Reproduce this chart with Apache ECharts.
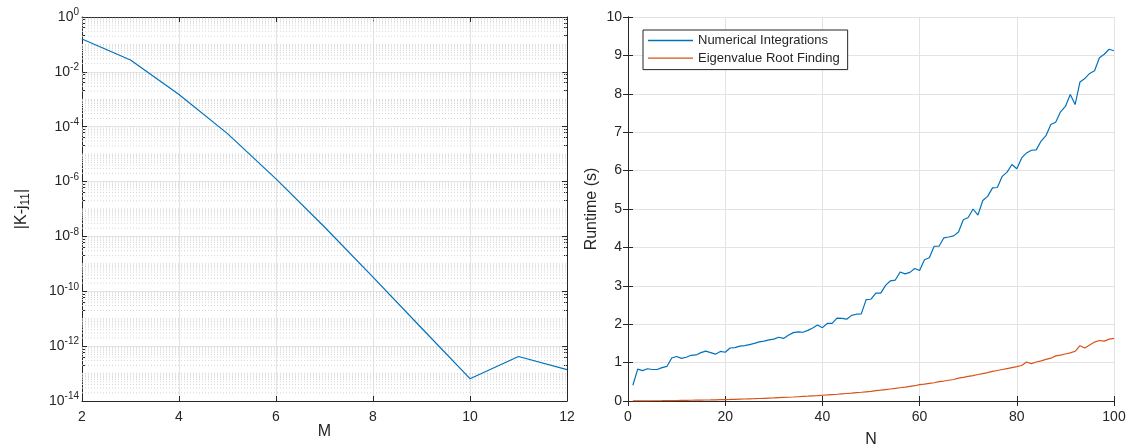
<!DOCTYPE html>
<html><head><meta charset="utf-8">
<script src="https://cdn.jsdelivr.net/npm/echarts@6/dist/echarts.min.js"></script>
<style>html,body{margin:0;padding:0;background:#fff}#c{width:1129px;height:447px}</style>
</head><body><div id="c"></div>
<script>
// ---- Left panel data ----
const mValues = [2, 3, 4, 5, 6, 7, 8, 9, 10, 11, 12];
const errValues = [0.158, 0.027, 1.5e-3, 5.6e-5, 1.25e-6, 2.2e-8, 3.3e-10, 4.6e-12, 6.5e-14, 4.2e-13, 1.4e-13];
const leftXTicks = [2, 4, 6, 8, 10, 12];
const leftYExponents = [-14, -12, -10, -8, -6, -4, -2, 0];

// ---- Right panel data ----
const nValues = Array.from({length: 100}, (_, i) => i + 1);
const numIntRuntime = [
  0.41, 0.83, 0.79, 0.84, 0.82, 0.82, 0.87, 0.90, 1.12, 1.16,
  1.11, 1.14, 1.19, 1.20, 1.26, 1.30, 1.26, 1.22, 1.29, 1.27,
  1.38, 1.39, 1.43, 1.44, 1.47, 1.50, 1.54, 1.56, 1.59, 1.61,
  1.66, 1.63, 1.71, 1.78, 1.80, 1.79, 1.84, 1.90, 1.98, 1.91,
  2.02, 2.02, 2.16, 2.15, 2.13, 2.23, 2.26, 2.27, 2.64, 2.65,
  2.81, 2.81, 3.01, 3.13, 3.15, 3.36, 3.31, 3.35, 3.45, 3.40,
  3.68, 3.73, 4.03, 4.03, 4.25, 4.27, 4.30, 4.40, 4.72, 4.78,
  5.00, 4.84, 5.22, 5.33, 5.55, 5.56, 5.85, 5.96, 6.16, 6.05,
  6.33, 6.46, 6.53, 6.54, 6.77, 6.91, 7.20, 7.26, 7.53, 7.67,
  7.98, 7.72, 8.31, 8.40, 8.53, 8.60, 8.94, 9.03, 9.16, 9.12
];
const eigRootRuntime = [
  0.002, 0.003, 0.004, 0.005, 0.006, 0.007, 0.008, 0.010, 0.011, 0.013,
  0.015, 0.017, 0.019, 0.021, 0.023, 0.026, 0.028, 0.031, 0.034, 0.037,
  0.040, 0.044, 0.048, 0.052, 0.056, 0.060, 0.065, 0.070, 0.075, 0.080,
  0.086, 0.092, 0.098, 0.104, 0.111, 0.118, 0.125, 0.133, 0.141, 0.150,
  0.158, 0.167, 0.176, 0.186, 0.196, 0.206, 0.217, 0.228, 0.240, 0.252,
  0.268, 0.282, 0.297, 0.312, 0.327, 0.345, 0.362, 0.380, 0.398, 0.425,
  0.440, 0.458, 0.476, 0.505, 0.520, 0.540, 0.560, 0.595, 0.615, 0.640,
  0.660, 0.690, 0.715, 0.740, 0.770, 0.795, 0.820, 0.845, 0.870, 0.895,
  0.925, 1.015, 0.975, 1.015, 1.045, 1.085, 1.115, 1.175, 1.195, 1.225,
  1.255, 1.295, 1.440, 1.380, 1.460, 1.535, 1.575, 1.560, 1.610, 1.630
];
const rightXTicks = [0, 20, 40, 60, 80, 100];
const rightYTicks = [0, 1, 2, 3, 4, 5, 6, 7, 8, 9, 10];
const seriesNames = ['Numerical Integrations', 'Eigenvalue Root Finding'];

const FONT = 'Liberation Sans, Arial, Helvetica, sans-serif';
const TXT = '#262626';
const AX = '#262626';
const GRIDC = '#e3e3e3';
const BLUE = '#0072BD';
const ORANGE = '#D95319';

// minor log gridline levels (values only; positioned by the log axis)
const minorLevels = [];
for (let k = leftYExponents[0]; k < leftYExponents[leftYExponents.length - 1]; k++) {
  for (let m = 1; m <= 9; m++) {
    if (m === 1 && leftYExponents.indexOf(k) >= 0) continue;
    minorLevels.push(m * Math.pow(10, k));
  }
}

const axisLineStyle = {show: true, lineStyle: {color: AX, width: 1}};
const tickStyle = {show: true, inside: true, length: 5, lineStyle: {color: AX}};

function xBase(gridIndex, ticks, pos, showLabel, name, nameGap) {
  return {
    type: 'value', gridIndex, position: pos,
    min: ticks[0], max: ticks[ticks.length - 1], interval: ticks[1] - ticks[0],
    axisLine: axisLineStyle, axisTick: tickStyle,
    axisLabel: {show: showLabel, color: TXT, fontSize: 14, fontFamily: FONT, margin: 9},
    splitLine: {show: showLabel, lineStyle: {color: GRIDC, width: 1}},
    name: showLabel ? name : '', nameLocation: 'middle', nameGap: nameGap,
    nameMoveOverlap: false,
    nameTextStyle: {color: TXT, fontSize: 16, fontFamily: FONT}
  };
}

const leftYBase = (pos, showLabel) => ({
  type: 'log', logBase: 10, gridIndex: 0, position: pos,
  min: Math.pow(10, leftYExponents[0]), max: Math.pow(10, leftYExponents[leftYExponents.length - 1]),
  interval: leftYExponents[1] - leftYExponents[0],
  axisLine: axisLineStyle, axisTick: tickStyle,
  minorTick: {show: true, length: 3, lineStyle: {color: AX}},
  axisLabel: {
    show: showLabel, margin: 3,
    formatter: v => '{b|10}{s|' + Math.round(Math.log10(v)) + '}',
    rich: {
      b: {color: TXT, fontSize: 14, fontFamily: FONT},
      s: {color: TXT, fontSize: 10, fontFamily: FONT, padding: [0, 0, 9, 0]}
    }
  },
  splitLine: {show: showLabel, lineStyle: {color: GRIDC, width: 1}},
  name: showLabel ? '|K-j{sub|11}|' : '', nameLocation: 'middle', nameGap: 50,
  nameMoveOverlap: false,
  nameTextStyle: {
    color: TXT, fontSize: 16, fontFamily: FONT,
    rich: {sub: {color: TXT, fontSize: 12, fontFamily: FONT, padding: [8, 0, 0, 0]}}
  }
});

const rightYBase = (pos, showLabel) => ({
  type: 'value', gridIndex: 1, position: pos,
  min: rightYTicks[0], max: rightYTicks[rightYTicks.length - 1], interval: rightYTicks[1] - rightYTicks[0],
  axisLine: axisLineStyle, axisTick: tickStyle,
  axisLabel: {show: showLabel, color: TXT, fontSize: 14, fontFamily: FONT, margin: 6},
  splitLine: {show: showLabel, lineStyle: {color: GRIDC, width: 1}},
  name: showLabel ? 'Runtime (s)' : '', nameLocation: 'middle', nameGap: 28,
  nameMoveOverlap: false,
  nameTextStyle: {color: TXT, fontSize: 16, fontFamily: FONT}
});

const minorSeries = minorLevels.map(v => ({
  type: 'line', xAxisIndex: 0, yAxisIndex: 0, silent: true, z: 1,
  symbol: 'none', animation: false,
  data: [[leftXTicks[0], v], [leftXTicks[leftXTicks.length - 1], v]],
  lineStyle: {color: '#d6d6d6', width: 1, type: [1, 2]},
  emphasis: {disabled: true}
}));

const chart = echarts.init(document.getElementById('c'), null, {renderer: 'canvas'});
chart.setOption({
  animation: false,
  backgroundColor: '#fff',
  grid: [
    {left: 82, top: 17, width: 485, height: 384, containLabel: false, outerBoundsMode: 'none'},
    {left: 628, top: 17, width: 486, height: 384, containLabel: false, outerBoundsMode: 'none'}
  ],
  legend: {
    left: 643, top: 30, orient: 'vertical',
    padding: [3, 8, 4, 5], itemGap: 2.6, itemWidth: 45, itemHeight: 1.4,
    icon: 'rect',
    borderColor: AX, borderWidth: 1, backgroundColor: '#fff',
    textStyle: {color: TXT, fontSize: 13, fontFamily: FONT, lineHeight: 15},
    data: seriesNames
  },
  xAxis: [
    xBase(0, leftXTicks, 'bottom', true, 'M', 23),
    xBase(0, leftXTicks, 'top', false, '', 0),
    xBase(1, rightXTicks, 'bottom', true, 'N', 31),
    xBase(1, rightXTicks, 'top', false, '', 0)
  ],
  yAxis: [
    leftYBase('left', true),
    leftYBase('right', false),
    rightYBase('left', true),
    rightYBase('right', false)
  ],
  series: minorSeries.concat([
    {
      type: 'line', xAxisIndex: 0, yAxisIndex: 0, z: 3,
      data: mValues.map((m, i) => [m, errValues[i]]),
      symbol: 'none', lineStyle: {color: BLUE, width: 1.2}, itemStyle: {color: BLUE}
    },
    {
      name: seriesNames[0], type: 'line', xAxisIndex: 2, yAxisIndex: 2, z: 3,
      data: nValues.map((n, i) => [n, numIntRuntime[i]]),
      symbol: 'none', lineStyle: {color: BLUE, width: 1.2}, itemStyle: {color: BLUE}
    },
    {
      name: seriesNames[1], type: 'line', xAxisIndex: 2, yAxisIndex: 2, z: 3,
      data: nValues.map((n, i) => [n, eigRootRuntime[i]]),
      symbol: 'none', lineStyle: {color: ORANGE, width: 1.2}, itemStyle: {color: ORANGE}
    }
  ])
});
</script>
</body></html>
